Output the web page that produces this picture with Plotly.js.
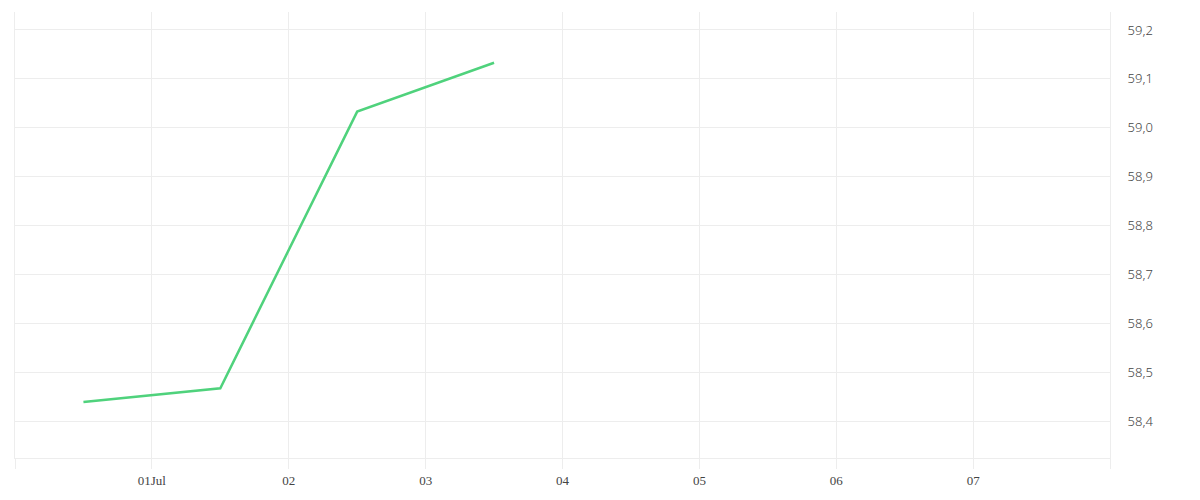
<!DOCTYPE html>
<html>
<head>
<meta charset="utf-8">
<script src="https://cdn.plot.ly/plotly-3.0.1.min.js"></script>
<style>html,body{margin:0;padding:0;background:#fff;}#chart{width:1200px;height:500px;}</style>
</head>
<body>
<div id="chart"></div>
<script>
const dates = ['2024-06-30 12:00', '2024-07-01 12:00', '2024-07-02 12:00', '2024-07-03 12:00'];
const values = [58.439, 58.467, 59.033, 59.133];
const tickDates = ['2024-06-30', '2024-07-01', '2024-07-02', '2024-07-03', '2024-07-04', '2024-07-05', '2024-07-06', '2024-07-07', '2024-07-08'];
const tickLabels = ['', '01Jul', '02', '03', '04', '05', '06', '07', ''];
const yTicks = [58.4, 58.5, 58.6, 58.7, 58.8, 58.9, 59.0, 59.1, 59.2];

const grid = '#ededed';
Plotly.newPlot('chart', [{
  x: dates, y: values, type: 'scatter', mode: 'lines',
  line: {color: '#4fd27c', width: 2.5},
  hoverinfo: 'x+y'
}], {
  width: 1200, height: 500,
  margin: {l: 15, r: 90, t: 12, b: 42},
  paper_bgcolor: '#fff', plot_bgcolor: '#fff',
  separators: ',.',
  showlegend: false,
  xaxis: {
    type: 'date',
    range: ['2024-06-30', '2024-07-08'],
    tickvals: tickDates, ticktext: tickLabels,
    showgrid: true, gridcolor: grid, gridwidth: 1,
    showline: true, linecolor: grid, linewidth: 1,
    ticks: 'outside', ticklen: 10, tickcolor: grid, tickwidth: 1,
    zeroline: false,
    tickfont: {family: 'Liberation Serif, serif', size: 13, color: '#444'}
  },
  yaxis: {
    side: 'right',
    range: [58.3243, 59.2368],
    tickvals: yTicks,
    tickformat: '.1f',
    showgrid: true, gridcolor: grid, gridwidth: 1,
    showline: true, mirror: true, linecolor: grid, linewidth: 1,
    ticks: 'outside', ticklen: 14, tickcolor: 'rgba(0,0,0,0)',
    zeroline: false,
    tickfont: {family: 'Noto Sans, sans-serif', size: 13, weight: 300, color: '#444'}
  }
}, {displayModeBar: false, staticPlot: true});
</script>
</body>
</html>
